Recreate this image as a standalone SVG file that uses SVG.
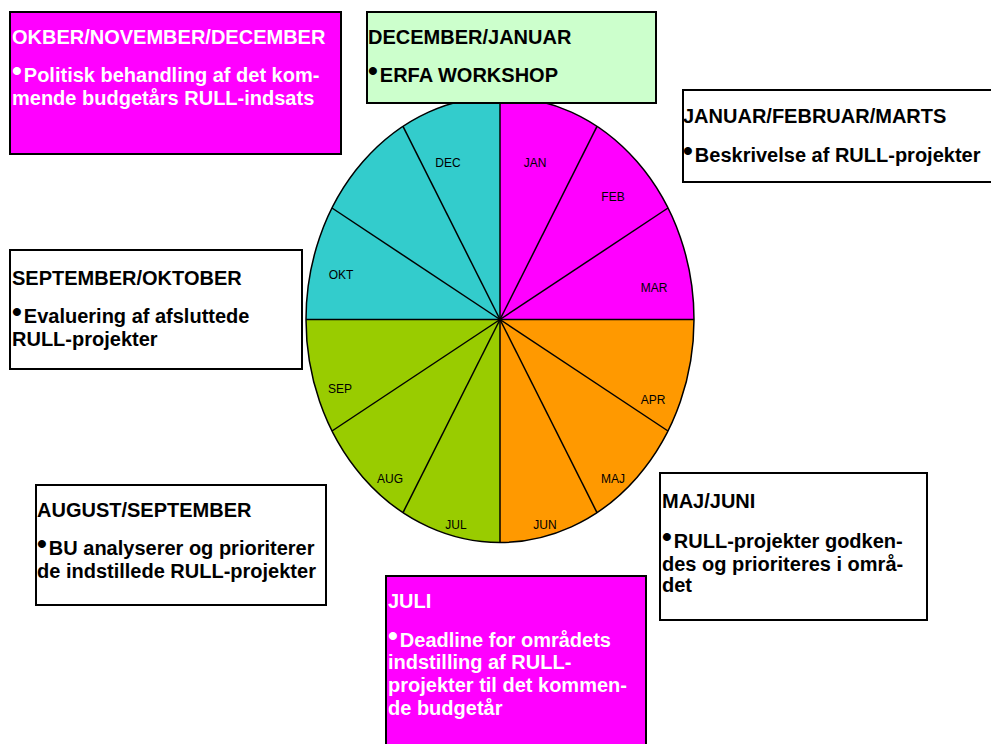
<svg xmlns="http://www.w3.org/2000/svg" width="991" height="744" viewBox="0 0 991 744">
<style>
.box{stroke:#000;stroke-width:2}
.t{font-family:"Liberation Sans",Arial,sans-serif;font-weight:bold;font-size:20px;fill:#000}
.w{fill:#fff}
.b{font-size:28px}
.m{font-family:"Liberation Sans",Arial,sans-serif;font-size:12px;fill:#000;text-anchor:middle}
.sl{stroke:#000;stroke-width:1.5;fill:none}
</style>
<rect width="991" height="744" fill="#fff"/>
<g id="pie">
<path d="M500,319.5 L500,96.5 A194,223 0 0 1 694,319.5 Z" fill="#FF00FF"/>
<path d="M500,319.5 L694,319.5 A194,223 0 0 1 500,542.5 Z" fill="#FF9900"/>
<path d="M500,319.5 L500,542.5 A194,223 0 0 1 306,319.5 Z" fill="#99CC00"/>
<path d="M500,319.5 L306,319.5 A194,223 0 0 1 500,96.5 Z" fill="#33CCCC"/>
<g class="sl">
<line x1="500" y1="319.5" x2="500" y2="96.5"/>
<line x1="500" y1="319.5" x2="597" y2="126.4"/>
<line x1="500" y1="319.5" x2="668" y2="208"/>
<line x1="500" y1="319.5" x2="694" y2="319.5"/>
<line x1="500" y1="319.5" x2="668" y2="431"/>
<line x1="500" y1="319.5" x2="597" y2="512.6"/>
<line x1="500" y1="319.5" x2="500" y2="542.5"/>
<line x1="500" y1="319.5" x2="403" y2="512.6"/>
<line x1="500" y1="319.5" x2="332" y2="431"/>
<line x1="500" y1="319.5" x2="306" y2="319.5"/>
<line x1="500" y1="319.5" x2="332" y2="208"/>
<line x1="500" y1="319.5" x2="403" y2="126.4"/>
<ellipse cx="500" cy="319.5" rx="194" ry="223"/>
</g>
<text class="m" x="535" y="167">JAN</text>
<text class="m" x="613" y="201">FEB</text>
<text class="m" x="654" y="292">MAR</text>
<text class="m" x="653" y="404">APR</text>
<text class="m" x="613" y="483">MAJ</text>
<text class="m" x="545" y="529">JUN</text>
<text class="m" x="456" y="529">JUL</text>
<text class="m" x="390" y="483">AUG</text>
<text class="m" x="340" y="393">SEP</text>
<text class="m" x="341" y="279">OKT</text>
<text class="m" x="448" y="167">DEC</text>
</g>
<g id="box-okt-nov-dec">
<rect class="box" x="10" y="12" width="331" height="142" fill="#FF00FF"/>
<text class="t w" x="12" y="44">OKBER/NOVEMBER/DECEMBER</text>
<text class="t w" x="12" y="82"><tspan class="b" dy="-2">•</tspan><tspan dy="2" dx="2">Politisk behandling af det kom-</tspan></text>
<text class="t w" x="12" y="105">mende budgetårs RULL-indsats</text>
</g>
<g id="box-dec-jan">
<rect class="box" x="367" y="12" width="289" height="91" fill="#CCFFCC"/>
<text class="t" x="368" y="44">DECEMBER/JANUAR</text>
<text class="t" x="368" y="82"><tspan class="b" dy="-2">•</tspan><tspan dy="2" dx="2">ERFA WORKSHOP</tspan></text>
</g>
<g id="box-jan-feb-mar">
<rect class="box" x="683" y="90" width="320" height="92" fill="#fff"/>
<text class="t" x="683" y="123">JANUAR/FEBRUAR/MARTS</text>
<text class="t" x="683" y="162"><tspan class="b" dy="-2">•</tspan><tspan dy="2" dx="2">Beskrivelse af RULL-projekter</tspan></text>
</g>
<g id="box-sep-okt">
<rect class="box" x="10" y="250" width="292" height="119" fill="#fff"/>
<text class="t" x="12" y="285">SEPTEMBER/OKTOBER</text>
<text class="t" x="12" y="323"><tspan class="b" dy="-2">•</tspan><tspan dy="2" dx="2">Evaluering af afsluttede</tspan></text>
<text class="t" x="12" y="346">RULL-projekter</text>
</g>
<g id="box-aug-sep">
<rect class="box" x="36" y="485" width="290" height="120" fill="#fff"/>
<text class="t" x="37" y="517">AUGUST/SEPTEMBER</text>
<text class="t" x="37" y="555"><tspan class="b" dy="-2">•</tspan><tspan dy="2" dx="2">BU analyserer og prioriterer</tspan></text>
<text class="t" x="37" y="578">de indstillede RULL-projekter</text>
</g>
<g id="box-maj-juni">
<rect class="box" x="660" y="473" width="267" height="147" fill="#fff"/>
<text class="t" x="662" y="508">MAJ/JUNI</text>
<text class="t" x="662" y="548"><tspan class="b" dy="-2">•</tspan><tspan dy="2" dx="2">RULL-projekter godken-</tspan></text>
<text class="t" x="662" y="571">des og prioriteres i områ-</text>
<text class="t" x="662" y="592">det</text>
</g>
<g id="box-juli">
<rect class="box" x="386" y="576" width="260" height="180" fill="#FF00FF"/>
<text class="t w" x="388" y="608">JULI</text>
<text class="t w" x="388" y="647"><tspan class="b" dy="-2">•</tspan><tspan dy="2" dx="2">Deadline for områdets</tspan></text>
<text class="t w" x="388" y="669">indstilling af RULL-</text>
<text class="t w" x="388" y="692">projekter til det kommen-</text>
<text class="t w" x="388" y="715">de budgetår</text>
</g>
<g id="connectors"></g>
</svg>
